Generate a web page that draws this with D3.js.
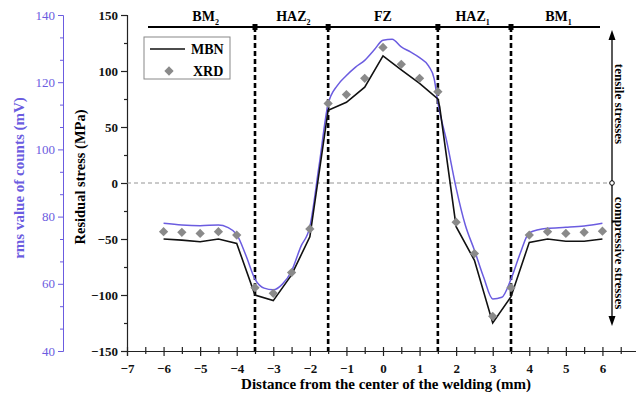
<!DOCTYPE html>
<html>
<head>
<meta charset="utf-8">
<script src="https://cdn.jsdelivr.net/npm/d3@7"></script>
<style>
  html, body { margin: 0; padding: 0; background: #fff; }
  svg text { font-family: 'Liberation Serif', 'Times New Roman', serif; }
</style>
</head>
<body>
<div class="chart-container"></div>
<script>
// x positions (mm) and residual stress (MPa)
const mbnX = [-6, -5.5, -5, -4.5, -4, -3.5, -3, -2.5, -2, -1.5, -1, -0.5, 0, 0.5, 1, 1.5, 1.55, 2, 2.5, 3, 3.5, 4, 4.5, 5, 5.5, 6];
const mbnStress = [-50, -51, -52.5, -50, -54, -100, -105, -82, -48, 65, 72, 85.5, 113.5, 101, 89, 75, 68, -39, -69, -125, -101.5, -53, -50, -52, -52, -50];

const xrdX = [-6, -5.5, -5, -4.5, -4, -3.5, -3, -2.5, -2, -1.5, -1, -0.5, 0, 0.5, 1, 1.5, 2, 2.5, 3, 3.5, 4, 4.5, 5, 5.5, 6];
const xrdStress = [-43.5, -44, -45, -43.5, -46.5, -93.5, -98.5, -80, -41, 71, 79, 93.5, 121, 106, 93.5, 81.5, -35, -63, -119, -93.5, -46.5, -43.5, -45, -44, -43];

// rms value of counts (mV), right-hand purple scale
const rmsX = [-6, -5.5, -5, -4.5, -4.25, -4, -3.75, -3.5, -3.25, -3, -2.75, -2.5, -2.25, -2, -1.75, -1.5, -1.25, -1, -0.75, -0.5, -0.25, 0, 0.25, 0.5, 0.75, 1, 1.25, 1.4, 1.5, 1.75, 2, 2.25, 2.5, 2.75, 3, 3.25, 3.5, 3.75, 4, 4.5, 5, 5.5, 6];
const rmsValue = [78, 77.5, 77.3, 77.5, 76.8, 74.7, 68.5, 61.4, 58.7, 58.2, 59.9, 63.8, 71, 77, 95, 113.5, 119, 122, 124.5, 126.5, 129.5, 132.5, 132.8, 130.5, 129, 127.3, 124.8, 121, 114, 102, 88.5, 77.5, 70, 62, 55.5, 56, 61.4, 69, 75.2, 76.5, 76.8, 77.2, 78];

// zones
const zoneBounds = [-3.5, -1.5, 1.5, 3.5];
const zoneNames = ['BM', 'HAZ', 'FZ', 'HAZ', 'BM'];
const zoneSubs = ['2', '2', '', '1', '1'];
const zoneLabelX = [-4.85, -2.45, 0, 2.45, 4.8];

const xTickLabels = [-7, -6, -5, -4, -3, -2, -1, 0, 1, 2, 3, 4, 5, 6];
const yTickLabels = [-150, -100, -50, 0, 50, 100, 150];
const rmsTickLabels = [40, 60, 80, 100, 120, 140];

const purple = '#6b5ce0';

const W = 636, H = 402;
const svg = d3.select('.chart-container').append('svg')
  .attr('width', W).attr('height', H);

const x = d3.scaleLinear().domain([-7, 7]).range([127, 639]);
const y = d3.scaleLinear().domain([-150, 150]).range([351, 15]);
const y2 = d3.scaleLinear().domain([40, 140]).range([351, 15]);

// ---- purple rms axis
const gRms = svg.append('g').attr('transform', 'translate(63,0)');
gRms.call(d3.axisLeft(y2).tickValues(rmsTickLabels).tickSize(5).tickPadding(3));
const rmsMinor = d3.range(40, 140, 20 / 3).filter((v, i) => i % 3 !== 0);
gRms.append('g').call(d3.axisLeft(y2).tickValues(rmsMinor).tickSize(3).tickFormat(''))
  .select('.domain').remove();
gRms.selectAll('path, line').attr('stroke', purple);
gRms.selectAll('text').attr('fill', purple)
  .style('font-size', '13px').style('font-family', 'Liberation Serif, serif');

svg.append('text')
  .attr('transform', 'translate(24,178) rotate(-90)')
  .attr('text-anchor', 'middle')
  .attr('fill', purple)
  .style('font-size', '15px').style('font-weight', 'bold')
  .text('rms value of counts (mV)');

// ---- main y axis
const gY = svg.append('g').attr('transform', 'translate(127,0)');
gY.call(d3.axisLeft(y).tickValues(yTickLabels).tickSize(6).tickPadding(3));
gY.append('g').call(d3.axisLeft(y).tickValues([-125, -75, -25, 25, 75, 125]).tickSize(3).tickFormat(''))
  .select('.domain').remove();
gY.selectAll('path, line').attr('stroke', '#222').attr('stroke-width', 1.2);
gY.selectAll('text').attr('fill', '#111')
  .style('font-size', '13px').style('font-weight', 'bold').style('font-family', 'Liberation Serif, serif');

svg.append('text')
  .attr('transform', 'translate(85,177) rotate(-90)')
  .attr('text-anchor', 'middle')
  .style('font-size', '14.5px').style('font-weight', 'bold')
  .text('Residual stress (MPa)');

// ---- x axis
const gX = svg.append('g').attr('transform', `translate(0,${y(-150)})`);
gX.call(d3.axisBottom(x).tickValues(xTickLabels).tickSize(5).tickPadding(8));
gX.append('g').call(d3.axisBottom(x).tickValues(d3.range(-6.5, 7, 1)).tickSize(3).tickFormat(''))
  .select('.domain').remove();
gX.selectAll('.tick line').attr('y1', -4);
gX.selectAll('path, line').attr('stroke', '#222').attr('stroke-width', 1.2);
gX.selectAll('text').attr('fill', '#111')
  .style('font-size', '13px').style('font-weight', 'bold').style('font-family', 'Liberation Serif, serif');

svg.append('text')
  .attr('x', 386).attr('y', 389)
  .attr('text-anchor', 'middle')
  .style('font-size', '15px').style('font-weight', 'bold')
  .text('Distance from the center of the welding (mm)');

// ---- zero line
svg.append('line')
  .attr('x1', x(-7)).attr('x2', 612)
  .attr('y1', y(0)).attr('y2', y(0))
  .attr('stroke', '#888').attr('stroke-width', 0.9)
  .attr('stroke-dasharray', '4,3');

// ---- zone band on top
const bandY = 27;
svg.append('line')
  .attr('x1', 148).attr('x2', 600)
  .attr('y1', bandY).attr('y2', bandY)
  .attr('stroke', '#000').attr('stroke-width', 2);

svg.selectAll('.zone-line').data(zoneBounds).enter().append('line')
  .attr('class', 'zone-line')
  .attr('x1', d => x(d)).attr('x2', d => x(d))
  .attr('y1', bandY).attr('y2', y(-150))
  .attr('stroke', '#000').attr('stroke-width', 2.6)
  .attr('stroke-dasharray', '5,3');

svg.selectAll('.zone-mark').data(zoneBounds).enter().append('rect')
  .attr('class', 'zone-mark')
  .attr('x', d => x(d) - 2.5).attr('y', bandY - 3)
  .attr('width', 5).attr('height', 6)
  .attr('fill', '#000');

const zl = svg.selectAll('.zone-label').data(zoneNames).enter().append('text')
  .attr('class', 'zone-label')
  .attr('x', (d, i) => x(zoneLabelX[i]))
  .attr('y', 21)
  .attr('text-anchor', 'middle')
  .style('font-size', '14px').style('font-weight', 'bold');
zl.append('tspan').text(d => d);
zl.append('tspan')
  .attr('dy', 4)
  .style('font-size', '8px')
  .text((d, i) => zoneSubs[i]);

// ---- curves
const rmsLine = d3.line()
  .x(d => x(d[0])).y(d => y2(d[1]))
  .curve(d3.curveMonotoneX);
svg.append('path')
  .datum(rmsX.map((v, i) => [v, rmsValue[i]]))
  .attr('d', rmsLine)
  .attr('fill', 'none')
  .attr('stroke', purple).attr('stroke-width', 1.5);

const mbnLine = d3.line().x(d => x(d[0])).y(d => y(d[1]));
svg.append('path')
  .datum(mbnX.map((v, i) => [v, mbnStress[i]]))
  .attr('d', mbnLine)
  .attr('fill', 'none')
  .attr('stroke', '#111').attr('stroke-width', 1.6);

const diamond = d3.symbol().type(d3.symbolDiamond2).size(55);
svg.selectAll('.xrd').data(xrdX).enter().append('path')
  .attr('class', 'xrd')
  .attr('d', diamond)
  .attr('transform', (d, i) => `translate(${x(d)},${y(xrdStress[i])})`)
  .attr('fill', '#8a8a8a');

// ---- legend
const lg = svg.append('g');
lg.append('rect')
  .attr('x', 144).attr('y', 37).attr('width', 86).attr('height', 42)
  .attr('fill', '#fff').attr('stroke', '#888').attr('stroke-width', 1);
lg.append('line')
  .attr('x1', 150).attr('x2', 185).attr('y1', 49).attr('y2', 49)
  .attr('stroke', '#111').attr('stroke-width', 1.6);
lg.append('text').attr('x', 191).attr('y', 54)
  .style('font-size', '14px').style('font-weight', 'bold').text('MBN');
lg.append('path').attr('d', diamond)
  .attr('transform', 'translate(169,71)').attr('fill', '#8a8a8a');
lg.append('text').attr('x', 193).attr('y', 76)
  .style('font-size', '14px').style('font-weight', 'bold').text('XRD');

// ---- stress sign arrow on the right
const ax = 612;
svg.append('line')
  .attr('x1', ax).attr('x2', ax).attr('y1', 38).attr('y2', 318)
  .attr('stroke', '#000').attr('stroke-width', 1.3);
svg.append('path').attr('d', `M${ax},30 L${ax - 3.5},40 L${ax + 3.5},40 Z`).attr('fill', '#000');
svg.append('path').attr('d', `M${ax},326 L${ax - 3.5},316 L${ax + 3.5},316 Z`).attr('fill', '#000');
svg.append('circle').attr('cx', ax).attr('cy', y(0)).attr('r', 2.3)
  .attr('fill', '#fff').attr('stroke', '#000').attr('stroke-width', 1);

svg.append('text')
  .attr('transform', 'translate(615,104) rotate(90)')
  .attr('text-anchor', 'middle')
  .style('font-size', '13px').style('font-weight', 'bold')
  .text('tensile stresses');
svg.append('text')
  .attr('transform', 'translate(615,253) rotate(90)')
  .attr('text-anchor', 'middle')
  .style('font-size', '13px').style('font-weight', 'bold')
  .text('compressive stresses');
</script>
</body>
</html>
